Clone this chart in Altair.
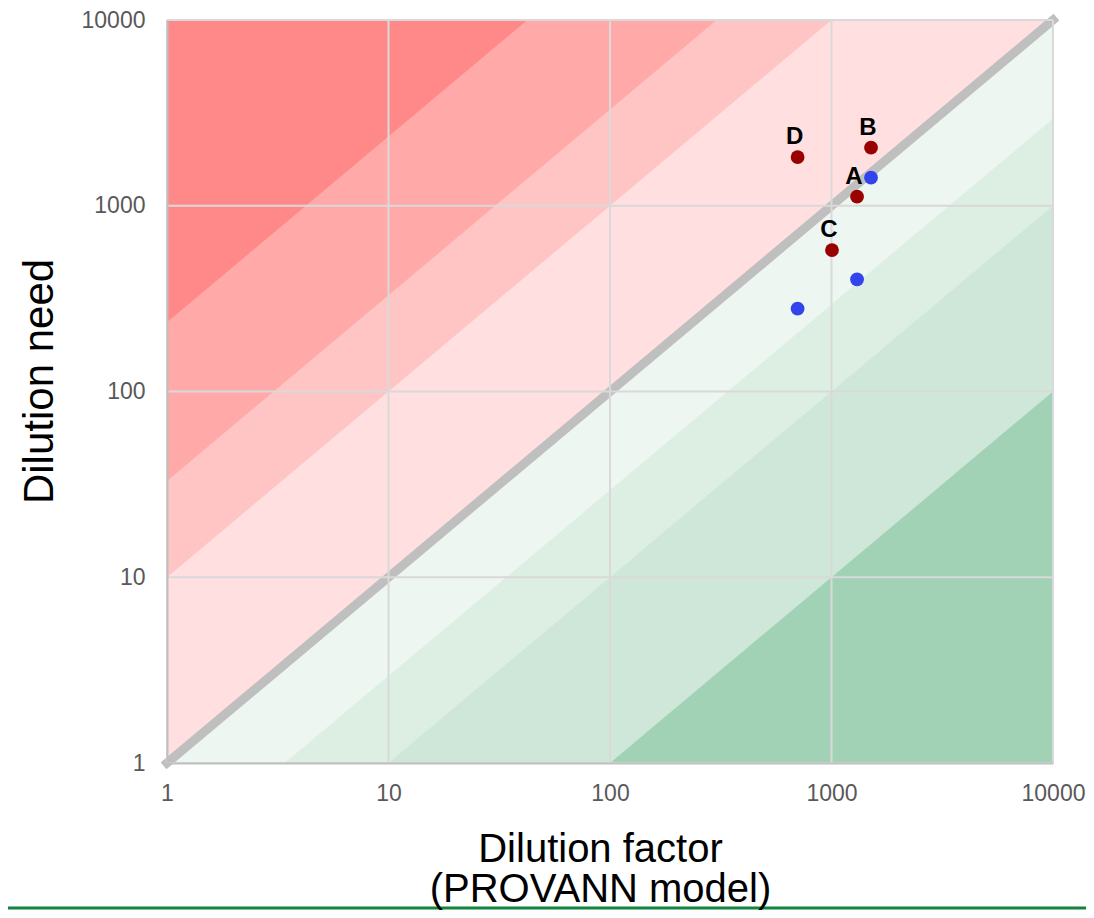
import altair as alt
import pandas as pd

# ---- data ----
x_ticks = [1, 10, 100, 1000, 10000]
y_ticks = [1, 10, 100, 1000, 10000]

# band boundaries: y = ratio * x (red, above diagonal) and y = x / ratio (green, below)
red_ratios = [1, 10, 33, 236]
red_colors = ["#ffdfdf", "#ffc4c4", "#ffa9a9", "#ff8888"]
green_ratios = [1, 3.4, 10, 100]
green_colors = ["#edf6f0", "#ddeee3", "#cfe7d8", "#a1d2b5"]

point_labels = ["A", "B", "C", "D"]
red_x = [1304, 1508, 1005, 703]
red_y = [1119, 2054, 577, 1828]
blue_x = [1508, 1304, 703]
blue_y = [1416, 401, 279]

FONT = "Liberation Sans"
LO, HI = 1, 10000

x_scale = alt.Scale(type="log", domain=[LO, HI], nice=False)
y_scale = alt.Scale(type="log", domain=[LO, HI], nice=False)

x_axis = alt.Axis(
    values=x_ticks, format="d", grid=False, ticks=False, tickSize=0,
    domainColor="#bfbfbf", domainWidth=2,
    labelFont=FONT, labelFontSize=23, labelColor="#595959", labelPadding=19,
    labelFlush=False, labelOverlap=False,
    title=["Dilution factor", "(PROVANN model)"],
    titleFont=FONT, titleFontSize=40, titleFontWeight="normal", titleColor="#000000",
    titleX=433, titleY=98, titleBaseline="alphabetic", titleAlign="center",
    titleLineHeight=40, zindex=1,
)
y_axis = alt.Axis(
    values=y_ticks, format="d", grid=False, ticks=False, tickSize=0,
    domainColor="#bfbfbf", domainWidth=2,
    labelFont=FONT, labelFontSize=23, labelColor="#595959", labelPadding=22,
    labelFlush=False, labelOverlap=False,
    title="Dilution need",
    titleFont=FONT, titleFontSize=42, titleFontWeight="normal", titleColor="#000000",
    titleAngle=270, titleX=-115, titleY=361, titleBaseline="alphabetic",
    titleAlign="center", zindex=1,
)


def X(field):
    return alt.X(field, type="quantitative", scale=x_scale, axis=x_axis)


def Y(field):
    return alt.Y(field, type="quantitative", scale=y_scale, axis=y_axis)


layers = []

# red bands (above diagonal): from y = k*x up to the top
for k, col in zip(red_ratios, red_colors):
    df = pd.DataFrame({
        "x": [LO, HI / k, HI],
        "y": [LO * k, HI, HI],
        "y2": [HI, HI, HI],
    })
    layers.append(
        alt.Chart(df).mark_area(color=col, opacity=1, interpolate="linear")
        .encode(x=X("x"), y=Y("y"), y2="y2")
    )

# green bands (below diagonal): from bottom up to y = x/k
for k, col in zip(green_ratios, green_colors):
    df = pd.DataFrame({
        "x": [LO, k * LO, HI],
        "y": [LO, LO, LO],
        "y2": [LO, LO, HI / k],
    })
    layers.append(
        alt.Chart(df).mark_area(color=col, opacity=1, interpolate="linear")
        .encode(x=X("x"), y=Y("y"), y2="y2")
    )

# 1:1 diagonal
diag = pd.DataFrame({"x": [LO, HI], "y": [LO, HI]})
layers.append(
    alt.Chart(diag).mark_line(color="#bfbfbf", strokeWidth=9, strokeCap="square")
    .encode(x=X("x"), y=Y("y"))
)

# gridlines
layers.append(
    alt.Chart(pd.DataFrame({"x": x_ticks})).mark_rule(color="#d9d9d9", strokeWidth=2)
    .encode(x=X("x"))
)
layers.append(
    alt.Chart(pd.DataFrame({"y": y_ticks})).mark_rule(color="#d9d9d9", strokeWidth=2)
    .encode(y=Y("y"))
)

# points
red_df = pd.DataFrame({"x": red_x, "y": red_y, "label": point_labels})
blue_df = pd.DataFrame({"x": blue_x, "y": blue_y})
layers.append(
    alt.Chart(blue_df).mark_circle(color="#3344ee", size=190, opacity=1)
    .encode(x=X("x"), y=Y("y"))
)
layers.append(
    alt.Chart(red_df).mark_circle(color="#990000", size=190, opacity=1)
    .encode(x=X("x"), y=Y("y"))
)
layers.append(
    alt.Chart(red_df).mark_text(font=FONT, fontSize=24, fontWeight="bold", color="#000000",
                                baseline="alphabetic", align="center", dx=-3, dy=-13)
    .encode(x=X("x"), y=Y("y"), text="label:N")
)

# bottom decorative green rule
layers.append(
    alt.Chart(pd.DataFrame({"a": [0]})).mark_rule(color="#13843f", strokeWidth=3)
    .encode(x=alt.value(-159), x2=alt.value(919), y=alt.value(888))
)

chart = alt.layer(*layers).properties(
    width=886, height=743,
    autosize=alt.AutoSizeParams(type="none"),
    padding={"left": 159, "top": 12, "right": 33, "bottom": 147},
    background="#ffffff",
).configure_view(stroke=None)

chart.save("out.html", embed_options={"renderer": "svg", "actions": False})
